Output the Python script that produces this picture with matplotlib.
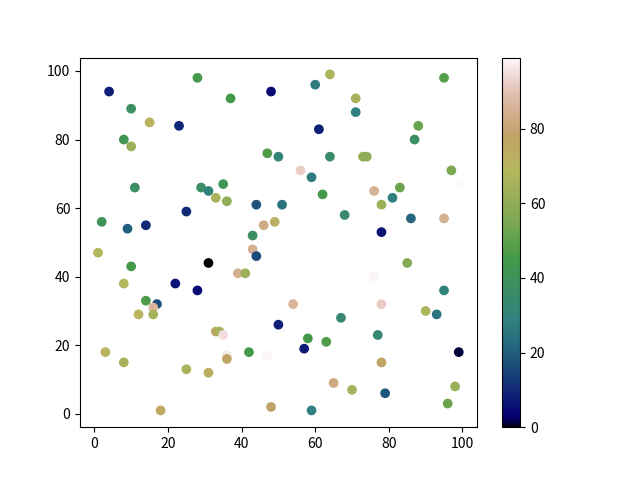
import numpy as np
import matplotlib
matplotlib.use("Agg")
import matplotlib.pyplot as plt

plt.rcParams['font.family'] = ['Noto Sans CJK SC', 'DejaVu Sans']

# Point positions
x = [4, 28, 48, 37, 10, 15, 23, 8, 10, 47,
     50, 11, 29, 31, 35, 33, 36, 25, 44, 51,
     2, 9, 14, 43, 46, 49, 64, 60, 95, 71,
     71, 61, 88, 87, 64, 73, 74, 56, 59, 97,
     99, 76, 83, 62, 81, 78, 68, 86, 95, 78,
     1, 43, 44, 10, 31, 39, 41, 8, 22, 28,
     14, 17, 16, 12, 16, 50, 33, 34, 35, 3,
     8, 42, 47, 36, 36, 25, 31, 18, 48, 85,
     76, 95, 54, 78, 90, 93, 67, 77, 58, 63,
     57, 99, 78, 65, 70, 79, 98, 96, 59]
y = [94, 98, 94, 92, 89, 85, 84, 80, 78, 76,
     75, 66, 66, 65, 67, 63, 62, 59, 61, 61,
     56, 54, 55, 52, 55, 56, 99, 96, 98, 92,
     88, 83, 84, 80, 75, 75, 75, 71, 69, 71,
     67, 65, 66, 64, 63, 61, 58, 57, 57, 53,
     47, 48, 46, 43, 44, 41, 41, 38, 38, 36,
     33, 32, 31, 29, 29, 26, 24, 24, 23, 18,
     15, 18, 17, 17, 16, 13, 12, 1, 2, 44,
     40, 36, 32, 32, 30, 29, 28, 23, 22, 21,
     19, 18, 15, 9, 7, 6, 8, 3, 1]
# Colour values (0-99) estimated from the gist_earth colours
colors = [8, 45, 5, 45, 38, 70, 9, 42, 62, 47,
          30, 38, 37, 30, 42, 66, 60, 10, 18, 25,
          40, 20, 10, 38, 82, 72, 67, 27, 48, 65,
          28, 8, 52, 37, 35, 60, 60, 92, 27, 55,
          99, 85, 52, 45, 28, 63, 35, 22, 85, 6,
          68, 85, 16, 45, 0, 84, 62, 68, 6, 5,
          47, 16, 86, 70, 65, 8, 76, 65, 95, 70,
          66, 45, 98, 96, 77, 66, 73, 76, 78, 58,
          98, 30, 86, 92, 67, 25, 32, 32, 45, 47,
          7, 1, 77, 82, 66, 18, 62, 52, 28]

fig, ax = plt.subplots(figsize=(6.4, 4.8), dpi=100)
sc = ax.scatter(x, y, c=colors, cmap='gist_earth')
fig.colorbar(sc, ax=ax)
fig.savefig('out.png')
